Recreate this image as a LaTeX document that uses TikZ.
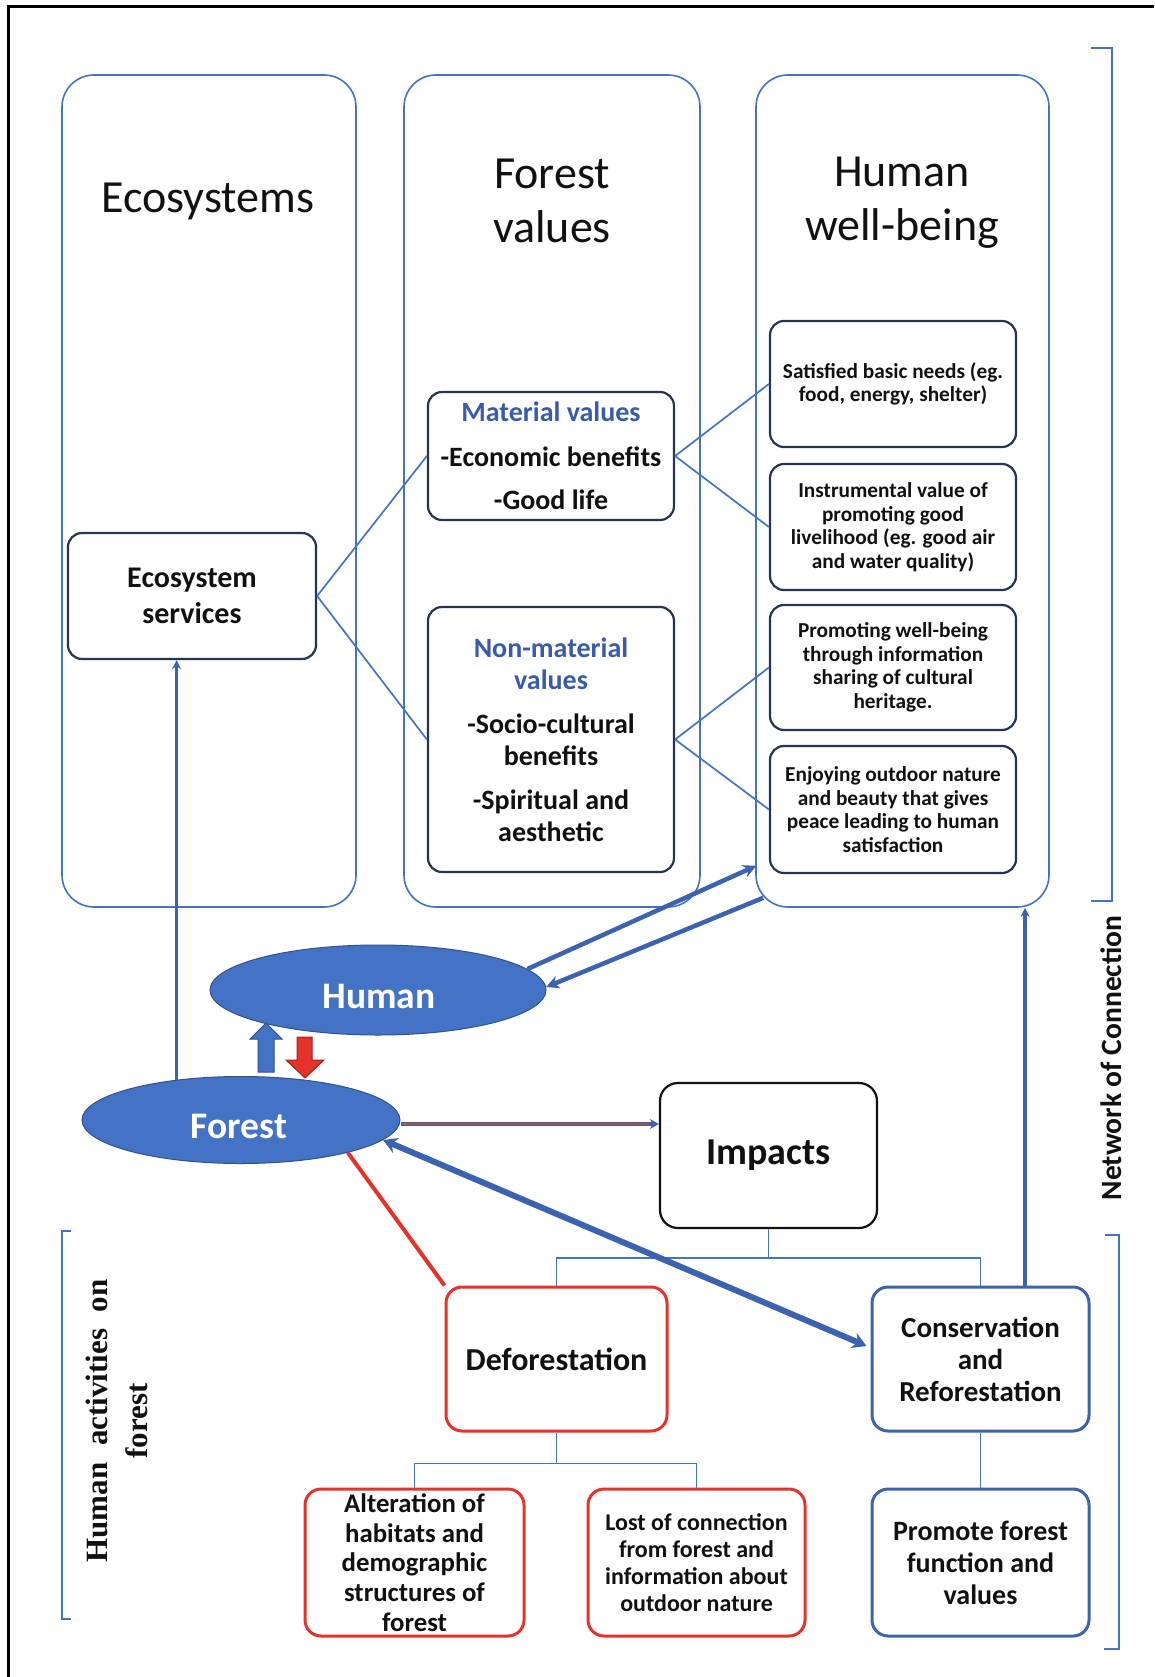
\documentclass[tikz,border=0pt]{standalone}
\usepackage{fontspec}
\setmainfont{Carlito}
\newfontfamily\timesfont{Liberation Serif}
\usetikzlibrary{shapes.geometric,arrows.meta,calc}
\definecolor{bl}{HTML}{4472C4}
\definecolor{bldk}{HTML}{3D62B0}
\definecolor{bledge}{HTML}{2F528F}
\definecolor{nv}{HTML}{27334F}
\definecolor{rd}{HTML}{E5322A}
\definecolor{rdedge}{HTML}{A52020}
\definecolor{brn}{HTML}{B0552E}
\definecolor{hd}{HTML}{3A5BAA}
\definecolor{txt}{HTML}{111111}
\tikzset{
  col/.style={draw=bl, line width=1.6pt, rounded corners=32pt, inner sep=0pt},
  ttl/.style={font=\fontsize{46}{54}\selectfont, align=center, text=txt},
  nbox/.style={draw=nv, line width=2.2pt, rounded corners=14pt, fill=white, inner sep=0pt, align=center, text=txt, font=\bfseries\fontsize{28}{32}\selectfont},
  sbox/.style={nbox, font=\bfseries\fontsize{21.3}{23.5}\selectfont},
  rbox/.style={draw=rd, line width=3pt, rounded corners=16pt, inner sep=0pt, align=center, fill=white, text=txt},
  bbox/.style={rbox, draw=bldk},
  conn/.style={draw=bl, line width=1.7pt},
  ell/.style={ellipse, fill=bl, draw=bledge, line width=1pt, inner sep=0pt},
  elltext/.style={text=white, font=\bfseries\fontsize{37.5}{40}\selectfont},
  thin arrow/.style={draw=bldk, line width=3.5pt, -{Stealth[length=9pt,width=9pt]}},
  fat arrow/.style={draw=bldk, line width=4.5pt, -{Stealth[length=13pt,width=13pt]}},
  brk/.style={draw=bl, line width=2pt},
}
\begin{document}
\begin{tikzpicture}[x=1pt,y=-1pt]
\useasboundingbox (0,0) rectangle (1154,1677);
\fill[white] (0,0) rectangle (1154,1677);
% outer frame
\draw[line width=3pt, black] (8,1677) -- (8,6.5) -- (1154,6.5);

% columns
\node[col, minimum width=294pt, minimum height=832pt] (eco) at (209,491) {};
\node[col, minimum width=296pt, minimum height=832pt] (fv) at (552,491) {};
\node[col, minimum width=293pt, minimum height=832pt] (hwb) at (902.5,491) {};
\node[ttl] (ecot) at (208,201) {Ecosystems};
\node[ttl] (fvt) at (552,201) {Forest\\values};
\node[ttl] (hwbt) at (902,203) {Human\\well-being};

% value boxes
\node[nbox, minimum width=246pt, minimum height=128pt] (mat) at (551,456)
  {\textcolor{hd}{Material values}\\[13pt]-Economic benefits\\[11pt]-Good life};
\node[nbox, minimum width=246pt, minimum height=265pt] (non) at (551,739.5)
  {\textcolor{hd}{Non-material}\\\textcolor{hd}{values}\\[12pt]-Socio-cultural\\benefits\\[12pt]-Spiritual and\\aesthetic};
\node[nbox, minimum width=248pt, minimum height=126pt, font=\bfseries\fontsize{30}{36}\selectfont] (es) at (192,596)
  {Ecosystem\\services};

% well-being boxes
\node[sbox, minimum width=246pt, minimum height=126pt] (b1) at (893,384)
  {Satisfied basic needs (eg.\\food, energy, shelter)};
\node[sbox, minimum width=246pt, minimum height=126pt] (b2) at (893,527)
  {Instrumental value of\\promoting good\\livelihood (eg. good air\\and water quality)};
\node[sbox, minimum width=246pt, minimum height=125pt] (b3) at (893,667.5)
  {Promoting well-being\\through information\\sharing of cultural\\heritage.};
\node[sbox, minimum width=246pt, minimum height=127pt] (b4) at (893,809.5)
  {Enjoying outdoor nature\\and beauty that gives\\peace leading to human\\satisfaction};

% thin connectors
\draw[conn] (es.east) -- (mat.west);
\draw[conn] (es.east) -- (non.west);
\draw[conn] (mat.east) -- (b1.west);
\draw[conn] (mat.east) -- (b2.west);
\draw[conn] (non.east) -- (b3.west);
\draw[conn] (non.east) -- (b4.west);

% ellipses
\node[ell, minimum width=336pt, minimum height=90pt] (human) at (378,990) {};
\node[elltext] (humant) at (379,996) {Human};
\node[ell, minimum width=318pt, minimum height=87pt] (forest) at (241,1120) {};
\node[elltext] (forestt) at (239,1126) {Forest};

% lower boxes
\node[nbox, draw=txt, rounded corners=18pt, minimum width=217pt, minimum height=145pt, font=\bfseries\fontsize{38}{44}\selectfont] (imp) at (768.5,1155.5) {Impacts};
\node[rbox, minimum width=221pt, minimum height=144pt, font=\bfseries\fontsize{32}{36}\selectfont] (defo) at (556.5,1359) {Deforestation};
\node[bbox, minimum width=217pt, minimum height=144pt, font=\bfseries\fontsize{29}{32}\selectfont] (cons) at (980.5,1359) {Conservation\\and\\Reforestation};
\node[rbox, minimum width=219pt, minimum height=147pt, font=\bfseries\fontsize{26.8}{29.7}\selectfont] (alt) at (414.5,1562.5) {Alteration of\\habitats and\\demographic\\structures of\\forest};
\node[rbox, minimum width=217pt, minimum height=147pt, font=\bfseries\fontsize{24}{27}\selectfont] (lost) at (696.5,1562.5) {Lost of connection\\from forest and\\information about\\outdoor nature};
\node[bbox, minimum width=217pt, minimum height=147pt, font=\bfseries\fontsize{28}{32}\selectfont] (prom) at (980.5,1562.5) {Promote forest\\function and\\values};

% tree connectors
\draw[conn] (imp.south) -- ++(0,29) -| (defo.north);
\draw[conn] (imp.south) -- ++(0,29) -| (cons.north);
\draw[conn] (defo.south) -- ++(0,31) -| (alt.north);
\draw[conn] (defo.south) -- ++(0,31) -| (lost.north);
\draw[conn] (cons.south) -- (prom.north);

% forest -> ecosystem services
\draw[thin arrow, line width=3pt] (forest.148.6) -- (forest.148.6 |- es.south);
% human <-> well-being
\draw[fat arrow] (human.8) -- ($(hwb.south west)+(1,-42)$);
\draw[fat arrow] ($(hwb.south west)+(8,-10)$) -- (human.1);
% forest -> impacts
\draw[draw=bldk, line width=4pt, -{Stealth[length=9pt,width=10pt]}] ($(forest.east)+(0,4)$) -- ($(forest.east -| imp.west)+(0,4)$);
\draw[draw=brn, line width=1.6pt] ($(forest.east)+(1,4)$) -- ($(forest.east -| imp.west)+(-10,4)$);
% forest <-> conservation
\draw[draw=bldk, line width=6pt, {Stealth[length=14pt,width=16pt]}-{Stealth[length=14pt,width=16pt]}] (forest.-8.6) -- ($(cons.west)+(-4,-13)$);
% forest -> deforestation (red)
\draw[draw=rd, line width=4pt] (forest.-17) -- (defo.north west);
% conservation -> well-being
\draw[thin arrow, line width=4pt] ($(cons.north)+(44.5,0)$) coordinate (cup) -- (cup |- hwb.south);

% block arrows between human and forest
\filldraw[fill=bl, draw=bledge, line width=1pt] (258,1072) -- (258,1039) -- (250,1039) -- (266,1023) -- (282,1039) -- (274,1039) -- (274,1072) -- cycle;
\filldraw[fill=rd, draw=rdedge, line width=1pt] (297,1037) -- (312,1037) -- (312,1060) -- (324,1060) -- (305,1078) -- (286,1060) -- (297,1060) -- cycle;

% brackets
\draw[brk] (1091,48) -- (1112,48) -- (1112,901) -- (1091,901);
\draw[brk] (1105,1235) -- (1119,1235) -- (1119,1649) -- (1104,1649);
\draw[brk] (71,1231) -- (62,1231) -- (62,1619) -- (71,1619);

% side labels
\node[rotate=90, text=txt, font=\bfseries\fontsize{29.5}{32}\selectfont] (net) at (1111,1058) {Network of Connection};
\node[rotate=90, text=txt, align=center, font=\timesfont\bfseries\fontsize{31}{40}\selectfont] (hact) at (117,1421)
  {\makebox[283pt][s]{Human activities on}\\forest};
\end{tikzpicture}
\end{document}
